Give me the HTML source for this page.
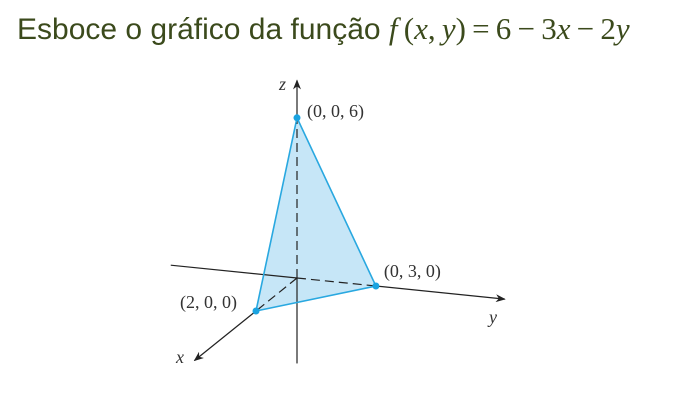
<!DOCTYPE html>
<html><head><meta charset="utf-8"><style>
body{margin:0;width:696px;height:404px;background:#fff;overflow:hidden;font-family:"Liberation Sans",sans-serif}
#title{position:absolute;left:17px;top:11px;font-size:30px;color:#3b4a1c;white-space:nowrap}
#title .m{font-family:"Liberation Serif",serif;font-size:31px;color:#3b4a1c}
svg{position:absolute;left:0;top:0}
</style></head><body>
<div id="title">Esboce o gráfico da função <span class="m"><i>f</i>&thinsp;(<i>x</i>,&thinsp;<i>y</i>)&thinsp;=&thinsp;6&thinsp;−&thinsp;3<i>x</i>&thinsp;−&thinsp;2<i>y</i></span></div>
<svg width="696" height="404">
<defs><marker id="ar" markerWidth="10" markerHeight="8" refX="9" refY="4" orient="auto" markerUnits="userSpaceOnUse"><path d="M0,0 L10,4 L0,8 L3,4 Z" fill="#222"/></marker></defs>
<g id="g"></g>
</svg>
<script>
const pointLabels=["(2, 0, 0)","(0, 3, 0)","(0, 0, 6)"];
const px=[2,0,0], py=[0,3,0], pz=[0,0,6];
const O=[297,278], EX=[-20.5,16.5], EY=[26.3,2.67], EZ=[0,-26.7];
function P(x,y,z){return [O[0]+x*EX[0]+y*EY[0]+z*EZ[0], O[1]+x*EX[1]+y*EY[1]+z*EZ[1]];}
const g=document.getElementById('g');const NS='http://www.w3.org/2000/svg';
function mk(t,a,name){const e=document.createElementNS(NS,t);for(const k in a)e.setAttribute(k,a[k]);


g.appendChild(e);return e;}
function line(a,b,name,extra){return mk('line',Object.assign({x1:a[0],y1:a[1],x2:b[0],y2:b[1],stroke:'#222','stroke-width':1.2},extra||{}),name);}
const pts=px.map((v,i)=>P(px[i],py[i],pz[i]));
mk('polygon',{points:pts.map(p=>p.join(',')).join(' '),fill:'#c6e6f7',stroke:'none'},'plane-triangle');
line(P(0,-4.8,0),P(0,0,0),'y-axis-back');
line(P(0,3,0),P(0,7.9,0),'y-axis',{'marker-end':'url(#ar)'});
line(P(0,0,0),P(0,3,0),'y-axis-dashed',{'stroke-dasharray':'9,5'});
line(P(0,0,0),P(0,0,6),'z-axis-dashed',{'stroke-dasharray':'9,5'});
line(P(0,0,6),P(0,0,7.4),'z-axis',{'marker-end':'url(#ar)'});
line(P(0,0,0),P(0,0,-3.2),'z-axis-lower');
line(P(0,0,0),P(2,0,0),'x-axis-dashed',{'stroke-dasharray':'9,5'});
line(P(2,0,0),P(5,0,0),'x-axis',{'marker-end':'url(#ar)'});
mk('polygon',{points:pts.map(p=>p.join(',')).join(' '),fill:'none',stroke:'#29a8e0','stroke-width':1.6},'plane-edges');
const off=[[-76,-3],[8,-9],[10,-1]];
pts.forEach((p,i)=>{mk('circle',{cx:p[0],cy:p[1],r:3.5,fill:'#1aa3e0'},'point-'+i);
const t=mk('text',{x:p[0]+off[i][0],y:p[1]+off[i][1],'font-family':'Liberation Serif, serif','font-size':18,fill:'#333'},'point-label-'+i);t.textContent=pointLabels[i];});
const ax=[['x',176,363],['y',489,323],['z',279,90]];
ax.forEach(a=>{const t=mk('text',{x:a[1],y:a[2],'font-family':'Liberation Serif, serif','font-style':'italic','font-size':18,fill:'#333'},a[0]+'-axis-label');t.textContent=a[0];});
</script>
</body></html>
